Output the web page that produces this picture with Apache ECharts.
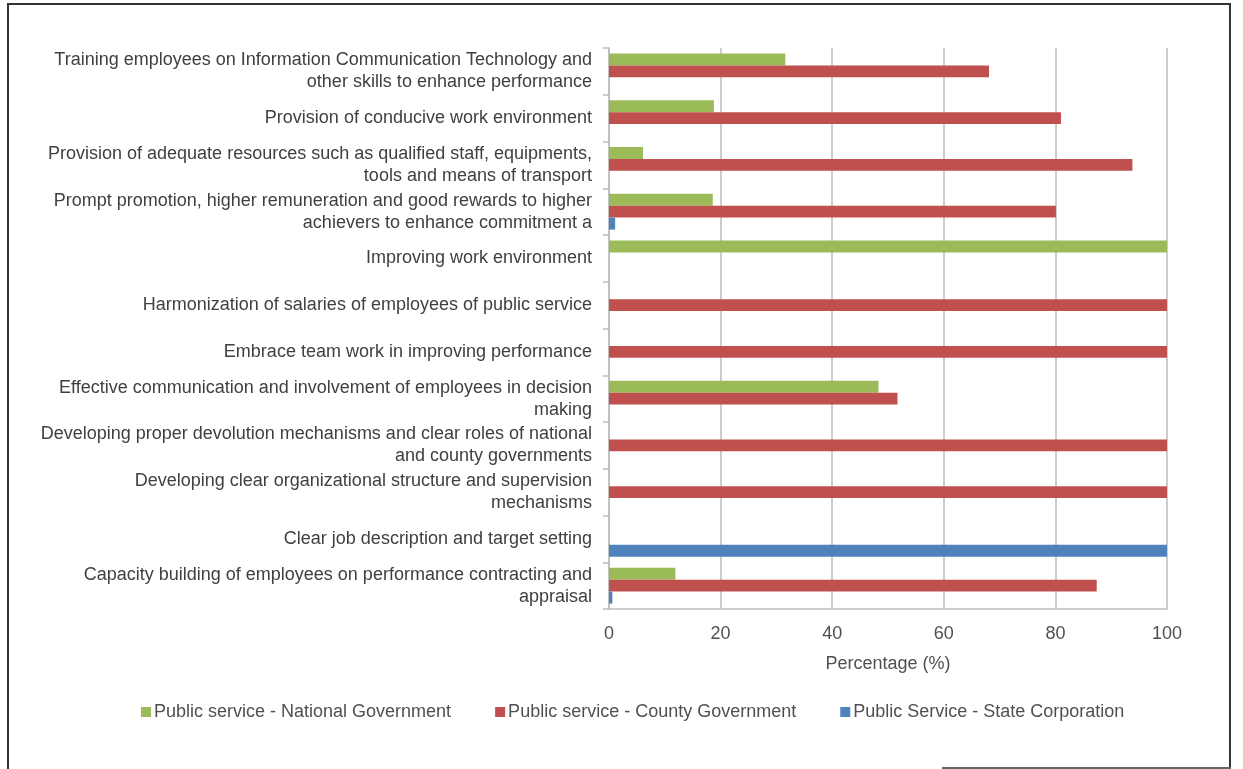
<!DOCTYPE html>
<html>
<head>
<meta charset="utf-8">
<script src="https://cdn.jsdelivr.net/npm/echarts@6/dist/echarts.min.js"></script>
<style>
  html, body { margin: 0; padding: 0; background: #ffffff; }
  #chart { width: 1243px; height: 769px; }
</style>
</head>
<body>
<div id="chart"></div>
<script>
// Strategies for improving performance, by sector of the public service
const categories = [
  'Training employees on Information Communication Technology and\nother skills to enhance performance',
  'Provision of conducive work environment',
  'Provision of adequate resources such as qualified staff, equipments,\ntools and means of transport',
  'Prompt promotion, higher remuneration and good rewards to higher\nachievers to enhance commitment a',
  'Improving work environment',
  'Harmonization of salaries of employees of public service',
  'Embrace team work in improving performance',
  'Effective communication and involvement of employees in decision\nmaking',
  'Developing proper devolution mechanisms and clear roles of national\nand county governments',
  'Developing clear organizational structure and supervision\nmechanisms',
  'Clear job description and target setting',
  'Capacity building of employees on performance contracting and\nappraisal'
];

const seriesNames = [
  'Public service - National Government',
  'Public service - County Government',
  'Public Service - State Corporation'
];

const nationalGov = [31.6, 18.8, 6.1, 18.6, 100, null, null, 48.3, null, null, null, 11.9];
const countyGov   = [68.1, 81.0, 93.8, 80.1, null, 100, 100, 51.7, 100, 100, null, 87.4];
const stateCorp   = [null, null, null, 1.1, null, null, null, null, null, null, 100, 0.6];

const xTicks = { min: 0, max: 100, interval: 20 };

const colors = ['#9bbb59', '#c0504d', '#4f81bd'];

const chart = echarts.init(document.getElementById('chart'), null, { renderer: 'canvas' });

const font = 'Liberation Sans, Arial, sans-serif';

chart.setOption({
  animation: false,
  backgroundColor: '#ffffff',
  color: colors,
  grid: { left: 609, right: 76, top: 48, bottom: 160, containLabel: false },
  legend: {
    bottom: 43,
    left: 136,
    icon: 'rect',
    itemWidth: 10,
    itemHeight: 10,
    itemGap: 44,
    textStyle: { color: '#505050', fontSize: 18, fontFamily: font, padding: [0, 0, 0, -2] },
    data: seriesNames
  },
  xAxis: {
    type: 'value',
    min: xTicks.min,
    max: xTicks.max,
    interval: xTicks.interval,
    name: 'Percentage (%)',
    nameLocation: 'middle',
    nameGap: 46,
    nameTextStyle: { color: '#505050', fontSize: 18, fontFamily: font },
    axisLine: { show: true, lineStyle: { color: '#bdbdbd', width: 1.5 } },
    axisTick: { show: false },
    axisLabel: { color: '#505050', fontSize: 18, fontFamily: font, margin: 16 },
    splitLine: { show: true, lineStyle: { color: '#bdbdbd', width: 1.5 } }
  },
  yAxis: {
    type: 'category',
    inverse: true,
    data: categories,
    axisLine: { show: true, lineStyle: { color: '#bdbdbd', width: 1.5 } },
    axisTick: { show: true, length: 6, lineStyle: { color: '#bdbdbd', width: 1.5 } },
    axisLabel: {
      color: '#404040', fontSize: 18, fontFamily: font, margin: 17,
      lineHeight: 22, align: 'right'
    }
  },
  series: [
    { name: seriesNames[0], type: 'bar', data: nationalGov, barGap: '0%', barCategoryGap: '23%' },
    { name: seriesNames[1], type: 'bar', data: countyGov, barGap: '0%', barCategoryGap: '23%' },
    { name: seriesNames[2], type: 'bar', data: stateCorp, barGap: '0%', barCategoryGap: '23%' }
  ],
  graphic: [
    { type: 'line', silent: true, shape: { x1: 7, y1: 4, x2: 1231, y2: 4 }, style: { stroke: '#333333', lineWidth: 2 } },
    { type: 'line', silent: true, shape: { x1: 8, y1: 4, x2: 8, y2: 769 }, style: { stroke: '#333333', lineWidth: 2 } },
    { type: 'line', silent: true, shape: { x1: 1230, y1: 4, x2: 1230, y2: 767 }, style: { stroke: '#333333', lineWidth: 2 } },
    { type: 'line', silent: true, shape: { x1: 942, y1: 768, x2: 1231, y2: 768 }, style: { stroke: '#333333', lineWidth: 1.5 } }
  ]
});
</script>
</body>
</html>
